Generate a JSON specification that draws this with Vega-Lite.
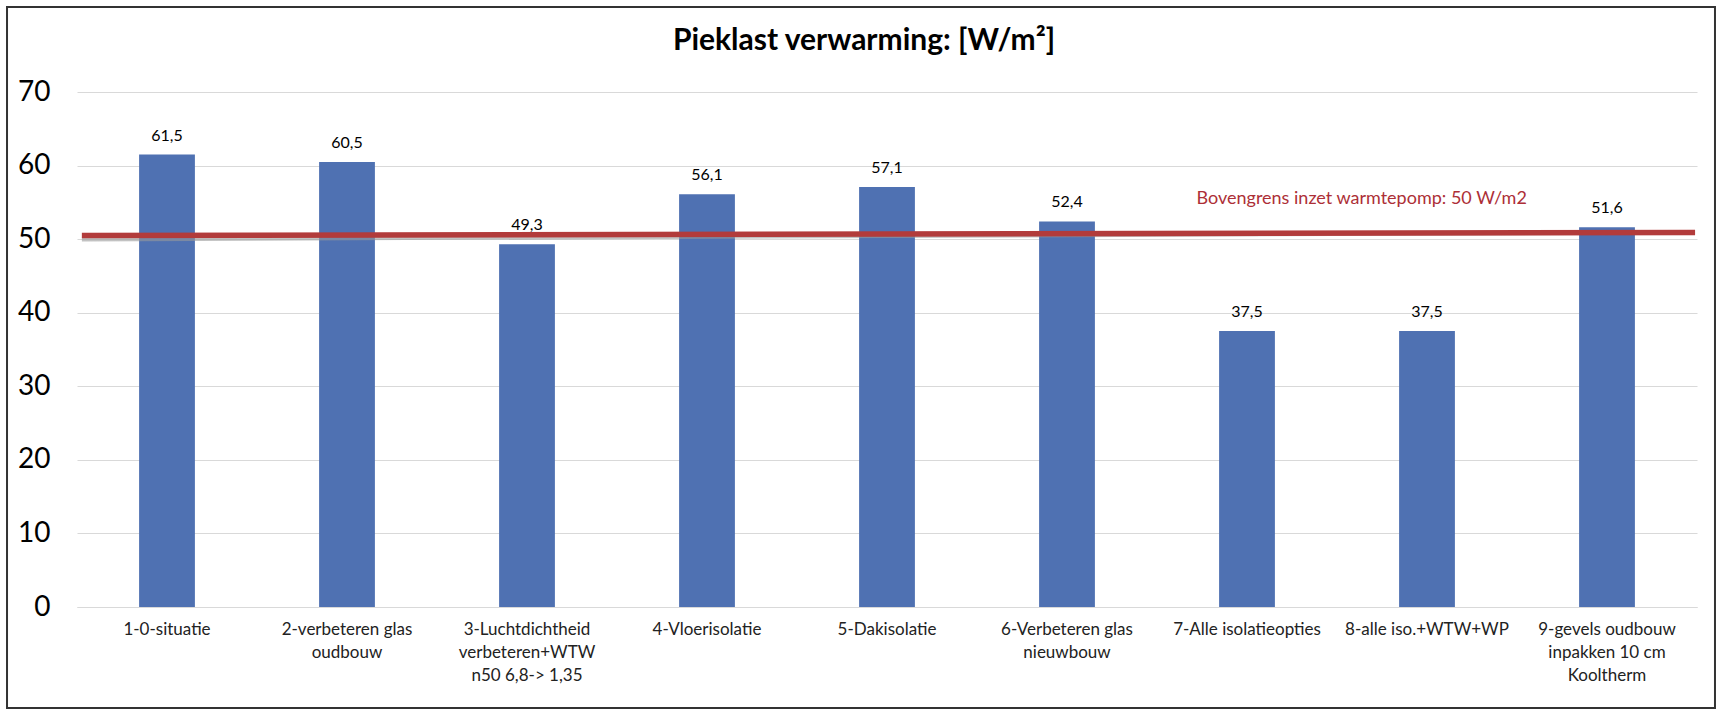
{
  "$schema": "https://vega.github.io/schema/vega-lite/v6.json",
  "autosize": {"type": "none"},
  "width": 1620,
  "height": 515,
  "padding": {"left": 77, "top": 92, "right": 31, "bottom": 108},
  "background": "white",
  "title": {
    "text": "Pieklast verwarming: [W/m²]",
    "font": "Lato",
    "fontSize": 30,
    "fontWeight": "bold",
    "color": "#000000",
    "anchor": "middle",
    "frame": "group",
    "baseline": "bottom",
    "offset": -80,
    "dx": -23
  },
  "config": {
    "locale": {"number": {"decimal": ",", "thousands": ".", "grouping": [3], "currency": ["€", ""]}},
    "view": {"stroke": null},
    "font": "Lato"
  },
  "data": {
    "values": [
      {"maatregel": "1-0-situatie", "pieklast": 61.5},
      {"maatregel": "2-verbeteren glas\noudbouw", "pieklast": 60.5},
      {"maatregel": "3-Luchtdichtheid\nverbeteren+WTW\nn50 6,8-> 1,35", "pieklast": 49.3},
      {"maatregel": "4-Vloerisolatie", "pieklast": 56.1},
      {"maatregel": "5-Dakisolatie", "pieklast": 57.1},
      {"maatregel": "6-Verbeteren glas\nnieuwbouw", "pieklast": 52.4},
      {"maatregel": "7-Alle isolatieopties", "pieklast": 37.5},
      {"maatregel": "8-alle iso.+WTW+WP", "pieklast": 37.5},
      {"maatregel": "9-gevels oudbouw\ninpakken 10 cm\nKooltherm", "pieklast": 51.6}
    ]
  },
  "resolve": {"scale": {"x": "independent"}, "axis": {"x": "independent"}},
  "layer": [
    {
      "layer": [
        {
          "mark": {"type": "bar", "color": "#4f71b2"},
          "encoding": {
            "x": {
              "field": "maatregel",
              "type": "nominal",
              "sort": null,
              "scale": {"paddingInner": 0.69, "paddingOuter": 0.345},
              "axis": {
                "title": null,
                "labelAngle": 0,
                "labelFontSize": 17,
                "labelColor": "#222222",
                "labelLineHeight": 23,
                "labelPadding": 14,
                "labelLimit": 400,
                "labelExpr": "split(datum.value, '\\n')",
                "ticks": false,
                "domainColor": "#d9d9d9",
                "domainWidth": 1
              }
            },
            "y": {
              "field": "pieklast",
              "type": "quantitative",
              "scale": {"domain": [0, 70], "nice": false},
              "axis": {
                "title": null,
                "values": [0, 10, 20, 30, 40, 50, 60, 70],
                "labelFontSize": 28,
                "labelColor": "#000000",
                "labelPadding": 27,
                "ticks": false,
                "domain": false,
                "gridColor": "#d9d9d9",
                "gridWidth": 1
              }
            }
          }
        },
        {
          "mark": {"type": "text", "baseline": "bottom", "dy": -11, "fontSize": 16, "color": "#000000"},
          "encoding": {
            "x": {"field": "maatregel", "type": "nominal", "sort": null},
            "y": {"field": "pieklast", "type": "quantitative"},
            "text": {"field": "pieklast", "type": "quantitative", "format": ".1f"}
          }
        }
      ]
    },
    {
      "data": {"values": [{"label": "Bovengrens inzet warmtepomp: 50 W/m2"}]},
      "layer": [
        {
          "mark": {"type": "rule", "color": "#9a9a9a", "opacity": 0.6, "strokeWidth": 4, "yOffset": 4},
          "encoding": {
            "x": {"datum": 0.003, "type": "quantitative", "scale": {"domain": [0, 1], "nice": false, "zero": false}, "axis": null},
            "x2": {"datum": 0.9988},
            "y": {"datum": 50.5, "type": "quantitative"},
            "y2": {"datum": 50.9}
          }
        },
        {
          "mark": {"type": "rule", "color": "#b23b3b", "strokeWidth": 5.5},
          "encoding": {
            "x": {"datum": 0.003, "type": "quantitative", "axis": null},
            "x2": {"datum": 0.9988},
            "y": {"datum": 50.5, "type": "quantitative"},
            "y2": {"datum": 50.9}
          }
        },
        {
          "mark": {"type": "text", "fontSize": 18, "color": "#ad2f37", "align": "center", "baseline": "middle"},
          "encoding": {
            "x": {"datum": 0.793, "type": "quantitative", "axis": null},
            "y": {"datum": 55.5, "type": "quantitative"},
            "text": {"field": "label"}
          }
        },
        {
          "mark": {"type": "rect", "fill": null, "stroke": "#333333", "strokeWidth": 2, "clip": false},
          "encoding": {
            "x": {"datum": -0.0432, "type": "quantitative", "axis": null},
            "x2": {"datum": 1.0111},
            "y": {"datum": 81.55, "type": "quantitative"},
            "y2": {"datum": -13.73}
          }
        }
      ]
    }
  ]
}
